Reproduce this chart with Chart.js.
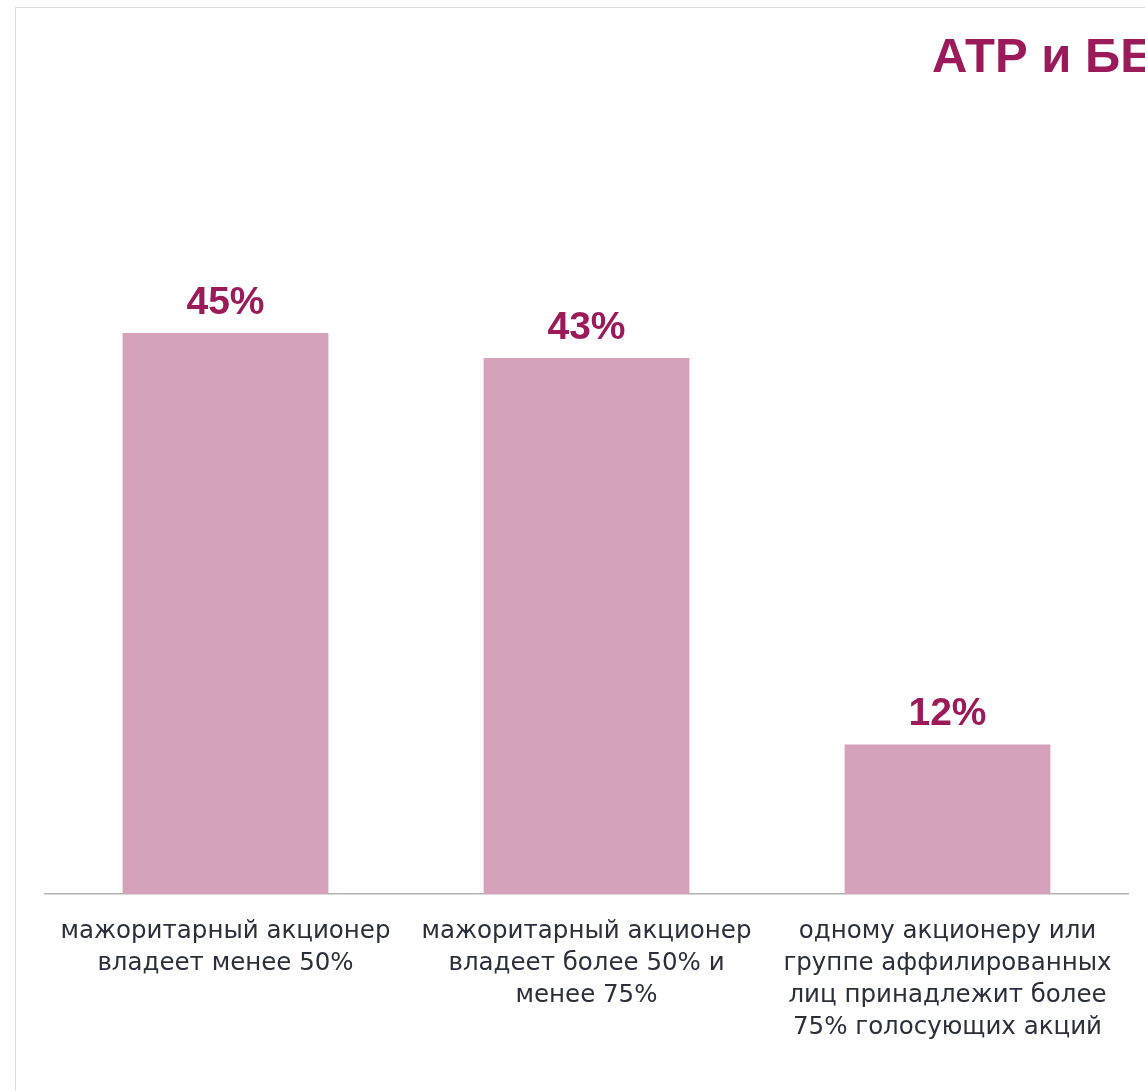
<!DOCTYPE html>
<html>
<head>
<meta charset="utf-8">
<script src="https://cdn.jsdelivr.net/npm/chart.js@4.4.1/dist/chart.umd.min.js"></script>
<style>
  html, body { margin: 0; padding: 0; overflow: hidden; background: #fff; }
  #frame {
    position: absolute; left: 15px; top: 7px; width: 1400px; height: 1200px;
    border-left: 1px solid #dcdcdc; border-top: 1px solid #dcdcdc;
  }
  #title {
    position: absolute; left: 932px; top: 27px; margin: 0;
    font: bold 49px "Liberation Sans", Arial, sans-serif; color: #9b1b5a;
    white-space: nowrap;
  }
  #wrap { position: absolute; left: 0; top: 0; width: 1145px; height: 1091px; }
</style>
</head>
<body>
<div id="frame"></div>
<h1 id="title">АТР и БЕ</h1>
<div id="wrap"><canvas id="ownership"></canvas></div>
<script>
var categories = [
  ["мажоритарный акционер", "владеет менее 50%"],
  ["мажоритарный акционер", "владеет более 50% и", "менее 75%"],
  ["одному акционеру или", "группе аффилированных", "лиц принадлежит более", "75% голосующих акций"]
];
var shares = [45, 43, 12];

// value labels above each bar
var barLabels = {
  id: "barLabels",
  afterDatasetsDraw: function (chart) {
    var ctx = chart.ctx;
    var meta = chart.getDatasetMeta(0);
    ctx.save();
    ctx.font = "bold 39px 'Liberation Sans', Arial, sans-serif";
    ctx.fillStyle = "#9b1b5a";
    ctx.textAlign = "center";
    ctx.textBaseline = "alphabetic";
    meta.data.forEach(function (bar, i) {
      ctx.fillText(shares[i] + "%", bar.x, bar.y - 19);
    });
    ctx.restore();
  }
};

new Chart("ownership", {
  type: "bar",
  data: {
    labels: categories,
    datasets: [{
      data: shares,
      backgroundColor: "#d6a2bb",
      barPercentage: 0.57,
      categoryPercentage: 1
    }]
  },
  options: {
    responsive: true,
    maintainAspectRatio: false,
    animation: false,
    layout: { padding: { left: 45, right: 17, top: 146, bottom: 25 } },
    plugins: {
      legend: { display: false },
      tooltip: { enabled: false }
    },
    scales: {
      x: {
        grid: { display: false, drawTicks: false },
        border: { display: true, color: "#b3b3b3", width: 1.5 },
        ticks: {
          padding: 22,
          maxRotation: 0,
          autoSkip: false,
          color: "#2b2e3b",
          font: { family: "DejaVu Sans", size: 24.5, lineHeight: 1.306 }
        }
      },
      y: {
        display: false,
        min: 0,
        max: 60
      }
    }
  },
  plugins: [barLabels]
});
</script>
</body>
</html>
